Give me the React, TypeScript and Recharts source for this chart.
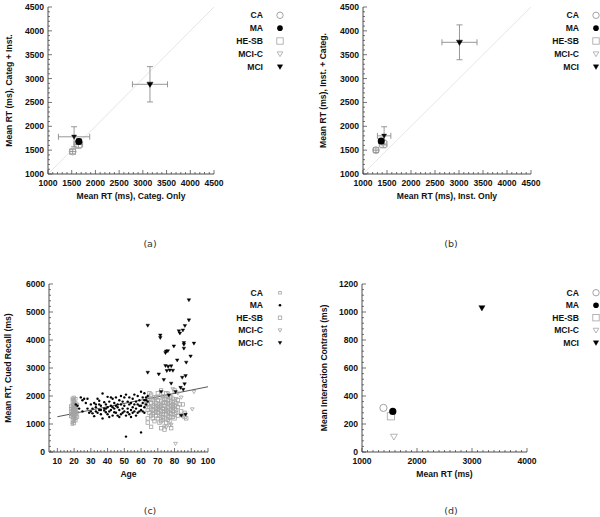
import React from 'react';
import { ScatterChart, Scatter, XAxis, YAxis, ErrorBar, ReferenceLine } from 'recharts';

type Pt = { x: number; y: number; ex?: number; ey?: number };
type Kind = 'oc' | 'fc' | 'os' | 'ot' | 'ft';

const FONT = '"Liberation Sans", Arial, Helvetica, sans-serif';
const GRAY = '#a3a3a3';
const EBAR = '#8c8c8c';
const BORDER = '#3a3a3a';

// ---------- Panel (a) ----------
const A_CA: Pt[] = [{ x: 1520, y: 1470, ex: 60, ey: 50 }];
const A_MA: Pt[] = [{ x: 1650, y: 1680, ex: 50, ey: 60 }];
const A_HESB: Pt[] = [{ x: 1640, y: 1620, ex: 90, ey: 80 }];
const A_MCIC: Pt[] = [{ x: 1550, y: 1780, ex: 330, ey: 210 }];
const A_MCI: Pt[] = [{ x: 3150, y: 2880, ex: 370, ey: 370 }];
const A_DIAG = [{ x: 1000, y: 1000 }, { x: 4500, y: 4500 }];

// ---------- Panel (b) ----------
const B_CA: Pt[] = [{ x: 1270, y: 1500, ex: 50, ey: 50 }];
const B_MA: Pt[] = [{ x: 1380, y: 1690, ex: 50, ey: 50 }];
const B_HESB: Pt[] = [{ x: 1420, y: 1630, ex: 80, ey: 80 }];
const B_MCIC: Pt[] = [{ x: 1440, y: 1800, ex: 140, ey: 190 }];
const B_MCI: Pt[] = [{ x: 3010, y: 3760, ex: 365, ey: 365 }];
const B_DIAG = [{ x: 1000, y: 1000 }, { x: 4500, y: 4500 }];

// ---------- Panel (d) ----------
const D_CA: Pt[] = [{ x: 1390, y: 315 }];
const D_MA: Pt[] = [{ x: 1560, y: 290 }];
const D_HESB: Pt[] = [{ x: 1525, y: 255 }];
const D_MCIC: Pt[] = [{ x: 1580, y: 110 }];
const D_MCI: Pt[] = [{ x: 3180, y: 1030 }];

// ---------- Panel (c) : [age, RT] ----------
const C_CA: [number, number][] = [
  [19, 1000], [19, 1050], [20, 1100], [19, 1150], [20, 1180], [21, 1200], [19, 1230], [20, 1250],
  [18, 1270], [21, 1290], [20, 1300], [19, 1320], [20, 1340], [21, 1350], [19, 1370], [20, 1380],
  [20, 1400], [21, 1410], [19, 1420], [20, 1440], [18, 1450], [21, 1460], [20, 1470], [19, 1490],
  [20, 1500], [21, 1510], [19, 1530], [20, 1550], [20, 1560], [21, 1580], [19, 1600], [20, 1620],
  [18, 1640], [21, 1650], [20, 1680], [19, 1700], [20, 1720], [21, 1750], [19, 1780], [20, 1800],
  [20, 1830], [19, 1870], [21, 1900], [20, 1950], [19, 1920], [22, 1700], [18, 1350], [22, 1400],
  [20, 1020], [21, 1120], [18, 1550], [22, 1250], [20, 1330], [19, 1460], [21, 1540], [20, 1610],
];
const C_MA: [number, number][] = [
  [21, 1700], [22, 1650], [23, 1550], [24, 1950], [25, 1450], [26, 1900], [27, 1750], [28, 1550],
  [29, 1400], [30, 1700], [31, 1380], [31, 1550], [32, 1280], [33, 1600], [33, 1450], [34, 1900],
  [34, 1400], [35, 1500], [35, 1830], [36, 1350], [36, 1650], [37, 2090], [37, 1200], [38, 1550],
  [38, 1480], [39, 1700], [39, 1420], [40, 1970], [40, 1600], [40, 1350], [41, 1450], [41, 1800],
  [42, 1500], [42, 1650], [43, 1300], [43, 1900], [44, 1550], [44, 1750], [45, 1400], [45, 1950],
  [46, 1600], [46, 1300], [47, 1850], [47, 1500], [48, 1700], [48, 1350], [48, 2000], [49, 1550],
  [49, 1800], [50, 1950], [50, 1450], [50, 1650], [51, 1300], [51, 2050], [51, 550], [52, 1550],
  [52, 1800], [53, 1350], [53, 1700], [54, 1500], [54, 1250], [55, 1600], [55, 1900], [56, 1700],
  [56, 1450], [57, 1800], [57, 1550], [58, 2000], [58, 1400], [59, 1650], [59, 1850], [60, 2150],
  [60, 700], [60, 1500], [61, 1750], [61, 1950], [62, 1600], [62, 2100], [62, 1400], [63, 1850],
  [63, 1700], [63, 1950], [64, 1800], [64, 2000], [35, 1700], [42, 1950], [44, 1420], [46, 1700],
  [53, 1950], [56, 2050], [58, 1700], [61, 1450], [28, 1900], [30, 1450], [32, 1750], [38, 1780],
  [45, 1650], [47, 1250], [52, 1420], [55, 1400], [57, 1300], [59, 1450], [49, 1400], [36, 1500],
  [41, 1250], [33, 1700], [25, 1850], [39, 1550], [43, 1600], [54, 1750], [60, 1650], [62, 1850],
];
const C_HESB: [number, number][] = [
  [64, 1700], [64, 1200], [64, 1050], [64, 1500], [65, 1900], [65, 1400], [65, 1600], [66, 900],
  [66, 1300], [66, 1750], [66, 2050], [67, 1500], [67, 1200], [67, 1650], [67, 1850], [68, 1400],
  [68, 1600], [68, 1100], [68, 1950], [69, 1300], [69, 1550], [69, 1750], [69, 1450], [70, 1200],
  [70, 1650], [70, 1850], [70, 1400], [70, 2100], [71, 1500], [71, 1300], [71, 1700], [71, 1950],
  [71, 1600], [72, 1100], [72, 850], [72, 1450], [72, 1800], [72, 1650], [72, 2200], [73, 1350],
  [73, 1550], [73, 1750], [73, 1250], [73, 2000], [74, 1450], [74, 1650], [74, 1900], [74, 800],
  [74, 1200], [74, 1550], [75, 1350], [75, 1750], [75, 1500], [75, 2100], [75, 1050], [76, 1600],
  [76, 1300], [76, 1850], [76, 1450], [76, 1700], [77, 1550], [77, 1250], [77, 1950], [77, 1400],
  [77, 1750], [78, 850], [78, 1650], [78, 1350], [78, 1800], [78, 1500], [79, 1450], [79, 1700],
  [79, 1900], [79, 1600], [80, 1550], [80, 1350], [80, 1800], [80, 2200], [80, 1650], [81, 1500],
  [81, 1750], [81, 1400], [82, 1600], [82, 1850], [83, 1700], [84, 1450], [85, 1700], [86, 1400],
  [86, 1250], [87, 1200], [65, 2100], [68, 1800], [70, 1550], [72, 1350], [74, 1750], [76, 2000],
  [78, 1950], [79, 1250], [73, 1150], [75, 1900], [71, 1050], [69, 1950], [67, 1350], [77, 1100],
  [76, 1150], [80, 1200], [82, 1300], [66, 1550], [63, 1700], [64, 1900],
];
const C_MCIC: [number, number][] = [
  [80.6, 300], [91.6, 2150], [90.6, 1530], [77, 950], [74, 920], [82, 2100], [79, 2250],
  [84, 1950], [76, 2100], [73, 1950], [78, 980], [85, 1300], [81, 1900], [75, 880],
];
const C_MCI: [number, number][] = [
  [64, 4520], [64, 2840], [71.5, 4170], [71.5, 4080], [82.6, 4320], [83.2, 4240], [85, 4350],
  [86.2, 4510], [88.6, 4710], [88.6, 5430], [85.6, 3900], [85.6, 3840], [91.6, 3880], [79.6, 3780],
  [75, 3600], [76, 3610], [74.6, 3540], [85.6, 3700], [81.6, 3280], [87, 3200], [89.6, 3420],
  [70.6, 2780], [74.6, 3080], [76.2, 3050], [78, 3070], [75.4, 2900], [77.2, 2920], [79, 2910],
  [73.6, 2580], [84.6, 2660], [86.6, 2720], [83.6, 2300], [85.2, 2230], [86, 2430], [80.6, 2150],
  [76.6, 2030], [86.6, 1340], [84, 1300], [72, 2150], [78, 2450],
];
const C_FIT = [{ x: 10, y: 1260 }, { x: 100, y: 2330 }];

// ---------- Ticks ----------
const AB_MAJOR = [1000, 1500, 2000, 2500, 3000, 3500, 4000, 4500];
const C_XMAJOR = [10, 20, 30, 40, 50, 60, 70, 80, 90, 100];
const C_YMAJOR = [0, 1000, 2000, 3000, 4000, 5000, 6000];
const D_XMAJOR = [1000, 2000, 3000, 4000];
const D_YMAJOR = [0, 200, 400, 600, 800, 1000, 1200];

const LEG_ABD = ['CA', 'MA', 'HE-SB', 'MCI-C', 'MCI'];
const LEG_C = ['CA', 'MA', 'HE-SB', 'MCI-C', 'MCI-C'];

const range = (a: number, b: number, s: number) => {
  const out: number[] = [];
  for (let v = a; v <= b + 1e-9; v += s) out.push(Math.round(v * 1000) / 1000);
  return out;
};

const toPts = (arr: [number, number][]) => arr.map(([x, y]) => ({ x, y }));

const TXT: React.CSSProperties = { fontFamily: FONT, fontWeight: 700, fontSize: 8.6, fill: '#111' };

function Marker({ kind, cx, cy, s, color }: { kind: Kind; cx: number; cy: number; s: number; color?: string }) {
  const c = color || (kind === 'fc' || kind === 'ft' ? '#000' : GRAY);
  if (kind === 'oc') return <circle cx={cx} cy={cy} r={s} fill="none" stroke={c} strokeWidth={1} />;
  if (kind === 'fc') return <circle cx={cx} cy={cy} r={s} fill={c} stroke="none" />;
  if (kind === 'os') return <rect x={cx - s} y={cy - s} width={2 * s} height={2 * s} fill="none" stroke={c} strokeWidth={0.8} />;
  const d = `M${cx - s},${cy - 0.7 * s} L${cx + s},${cy - 0.7 * s} L${cx},${cy + s} Z`;
  if (kind === 'ot') return <path d={d} fill="none" stroke={c} strokeWidth={0.8} />;
  return <path d={d} fill={c} stroke={c} strokeWidth={0.4} />;
}

const shape = (kind: Kind, s: number, color?: string) => (p: any) =>
  p.cx == null ? <g /> : <Marker kind={kind} cx={p.cx} cy={p.cy} s={s} color={color} />;

const makeTick = (side: 'bottom' | 'left' | 'top' | 'right', majors: number[], label: boolean) => (props: any) => {
  const { x, y, payload } = props;
  const v = payload.value;
  const major = majors.indexOf(v) >= 0;
  const len = major ? 4 : 2;
  const st = { stroke: BORDER, strokeWidth: 0.7 };
  let ln: React.ReactNode = null;
  if (side === 'bottom') ln = <line x1={x} y1={y} x2={x} y2={y - len} {...st} />;
  if (side === 'top') ln = <line x1={x} y1={y} x2={x} y2={y + len} {...st} />;
  if (side === 'left') ln = <line x1={x} y1={y} x2={x + len} y2={y} {...st} />;
  if (side === 'right') ln = <line x1={x} y1={y} x2={x - len} y2={y} {...st} />;
  let t: React.ReactNode = null;
  if (label && major) {
    if (side === 'bottom')
      t = <text x={x} y={y + 9} textAnchor="middle" dominantBaseline="central" style={TXT}>{v}</text>;
    if (side === 'left')
      t = <text x={x - 4} y={y} textAnchor="end" dominantBaseline="central" style={TXT}>{v}</text>;
  }
  return <g>{ln}{t}</g>;
};

const xTitle = (text: string) => (props: any) => {
  const vb = props.viewBox || {};
  return (
    <text x={vb.x + vb.width / 2} y={vb.y + 21.5} textAnchor="middle" dominantBaseline="central" style={TXT}>
      {text}
    </text>
  );
};

const yTitle = (text: string, tx: number) => (props: any) => {
  const vb = props.viewBox || {};
  const cx = (vb.x || 0) + tx;
  const cy = vb.y + vb.height / 2;
  return (
    <text x={cx} y={cy} transform={`rotate(-90, ${cx}, ${cy})`} textAnchor="middle" dominantBaseline="central" style={TXT}>
      {text}
    </text>
  );
};

type PanelProps = {
  left: number; top: number; width: number; height: number;
  plotLeft: number; plotRight: number; plotTop: number; plotBottom: number;
  xDomain: [number, number]; yDomain: [number, number];
  xMajors: number[]; xMinors: number[]; yMajors: number[]; yMinors: number[];
  xLabel: string; yLabel: string; yLabelX: number;
  children: React.ReactNode;
};

function Panel(p: PanelProps) {
  return (
    <div style={{ position: 'absolute', left: p.left, top: p.top, width: p.width, height: p.height }}>
      <ScatterChart
        width={p.width}
        height={p.height}
        margin={{ top: p.plotTop, right: p.width - p.plotRight, left: 0, bottom: p.height - p.plotBottom - 30 }}
      >
        <XAxis
          type="number" dataKey="x" domain={p.xDomain} allowDataOverflow ticks={p.xMinors} interval={0}
          tickSize={0} tickMargin={0} tickLine={false} height={30}
          axisLine={{ stroke: BORDER, strokeWidth: 0.9 }}
          tick={makeTick('bottom', p.xMajors, true)}
          label={{ content: xTitle(p.xLabel) } as any}
        />
        <XAxis
          xAxisId="top" orientation="top" type="number" dataKey="x" domain={p.xDomain} allowDataOverflow
          ticks={p.xMinors} interval={0} tickSize={0} tickMargin={0} tickLine={false} height={0}
          axisLine={{ stroke: BORDER, strokeWidth: 0.9 }} tick={makeTick('top', p.xMajors, false)}
        />
        <YAxis
          type="number" dataKey="y" domain={p.yDomain} allowDataOverflow ticks={p.yMinors} interval={0}
          tickSize={0} tickMargin={0} tickLine={false} width={p.plotLeft}
          axisLine={{ stroke: BORDER, strokeWidth: 0.9 }}
          tick={makeTick('left', p.yMajors, true)}
          label={{ content: yTitle(p.yLabel, p.yLabelX) } as any}
        />
        <YAxis
          yAxisId="right" orientation="right" type="number" dataKey="y" domain={p.yDomain} allowDataOverflow
          ticks={p.yMinors} interval={0} tickSize={0} tickMargin={0} tickLine={false} width={0}
          axisLine={{ stroke: BORDER, strokeWidth: 0.9 }} tick={makeTick('right', p.yMajors, false)}
        />
        {p.children}
      </ScatterChart>
    </div>
  );
}

const eb = (dir: 'x' | 'y') => (
  <ErrorBar dataKey={dir === 'x' ? 'ex' : 'ey'} direction={dir} width={3} stroke={EBAR} strokeWidth={0.9} />
);

function Legend({ x, y, labels, kinds, sizes, step }: { x: number; y: number; labels: string[]; kinds: Kind[]; sizes: number[]; step: number }) {
  return (
    <g>
      {labels.map((l, i) => (
        <g key={i}>
          <text x={x} y={y + i * step} textAnchor="end" dominantBaseline="central" style={TXT}>{l}</text>
          <Marker kind={kinds[i]} cx={x + 17} cy={y + i * step} s={sizes[i]} />
        </g>
      ))}
    </g>
  );
}

const CAP: React.CSSProperties = { fontFamily: '"DejaVu Sans", sans-serif', fontSize: 9.5, fill: '#333' };

export default function App() {
  const abMinor = range(1000, 4500, 100);
  const cxMinor = range(6, 100, 2);
  const cyMinor = range(0, 6000, 200);
  const dxMinor = range(1000, 4000, 100);
  const dyMinor = range(0, 1200, 40);
  const abdKinds: Kind[] = ['oc', 'fc', 'os', 'ot', 'ft'];
  const cKinds: Kind[] = ['os', 'fc', 'os', 'ot', 'ft'];
  const legSizes = [3.2, 2.8, 3.2, 2.8, 2.7];

  return (
    <div style={{ position: 'absolute', left: 0, top: 0, width: 600, height: 517, background: '#fff', overflow: 'hidden' }}>
      <Panel
        left={0} top={0} width={300} height={260}
        plotLeft={48} plotRight={214} plotTop={7} plotBottom={174}
        xDomain={[1000, 4500]} yDomain={[1000, 4500]}
        xMajors={AB_MAJOR} xMinors={abMinor} yMajors={AB_MAJOR} yMinors={abMinor}
        xLabel="Mean RT (ms), Categ. Only" yLabel="Mean RT (ms), Categ + Inst." yLabelX={8.5}
      >
        <ReferenceLine segment={A_DIAG} stroke="#e6e6e6" strokeWidth={1} />
        <Scatter data={A_HESB} isAnimationActive={false} shape={shape('os', 3.3)}>{eb('x')}{eb('y')}</Scatter>
        <Scatter data={A_CA} isAnimationActive={false} shape={shape('oc', 3.4)}>{eb('x')}{eb('y')}</Scatter>
        <Scatter data={A_MA} isAnimationActive={false} shape={shape('fc', 3.5)}>{eb('x')}{eb('y')}</Scatter>
        <Scatter data={A_MCIC} isAnimationActive={false} shape={shape('ft', 2.5, '#111')}>{eb('x')}{eb('y')}</Scatter>
        <Scatter data={A_MCI} isAnimationActive={false} shape={shape('ft', 3.1)}>{eb('x')}{eb('y')}</Scatter>
      </Panel>

      <Panel
        left={300} top={0} width={300} height={260}
        plotLeft={63} plotRight={231} plotTop={7} plotBottom={174}
        xDomain={[1000, 4500]} yDomain={[1000, 4500]}
        xMajors={AB_MAJOR} xMinors={abMinor} yMajors={AB_MAJOR} yMinors={abMinor}
        xLabel="Mean RT (ms), Inst. Only" yLabel="Mean RT (ms), Inst. + Categ." yLabelX={23}
      >
        <ReferenceLine segment={B_DIAG} stroke="#e6e6e6" strokeWidth={1} />
        <Scatter data={B_HESB} isAnimationActive={false} shape={shape('os', 3.3)}>{eb('x')}{eb('y')}</Scatter>
        <Scatter data={B_CA} isAnimationActive={false} shape={shape('oc', 3.4)}>{eb('x')}{eb('y')}</Scatter>
        <Scatter data={B_MA} isAnimationActive={false} shape={shape('fc', 3.5)}>{eb('x')}{eb('y')}</Scatter>
        <Scatter data={B_MCIC} isAnimationActive={false} shape={shape('ft', 2.5, '#111')}>{eb('x')}{eb('y')}</Scatter>
        <Scatter data={B_MCI} isAnimationActive={false} shape={shape('ft', 3.1)}>{eb('x')}{eb('y')}</Scatter>
      </Panel>

      <Panel
        left={0} top={260} width={300} height={257}
        plotLeft={49} plotRight={208} plotTop={24} plotBottom={192}
        xDomain={[5, 100]} yDomain={[0, 6000]}
        xMajors={C_XMAJOR} xMinors={cxMinor} yMajors={C_YMAJOR} yMinors={cyMinor}
        xLabel="Age" yLabel="Mean RT, Cued Recall (ms)" yLabelX={7.5}
      >
        <ReferenceLine segment={C_FIT} stroke="#444" strokeWidth={0.9} />
        <Scatter data={toPts(C_CA)} isAnimationActive={false} shape={shape('os', 1.3)} />
        <Scatter data={toPts(C_HESB)} isAnimationActive={false} shape={shape('os', 1.7)} />
        <Scatter data={toPts(C_MCIC)} isAnimationActive={false} shape={shape('ot', 1.9)} />
        <Scatter data={toPts(C_MA)} isAnimationActive={false} shape={shape('fc', 1.2)} />
        <Scatter data={toPts(C_MCI)} isAnimationActive={false} shape={shape('ft', 1.8)} />
      </Panel>

      <Panel
        left={300} top={260} width={300} height={257}
        plotLeft={62} plotRight={227} plotTop={24} plotBottom={192}
        xDomain={[1000, 4000]} yDomain={[0, 1200]}
        xMajors={D_XMAJOR} xMinors={dxMinor} yMajors={D_YMAJOR} yMinors={dyMinor}
        xLabel="Mean RT (ms)" yLabel="Mean Interaction Contrast (ms)" yLabelX={24}
      >
        <Scatter data={D_CA} isAnimationActive={false} shape={shape('oc', 3.6)} />
        <Scatter data={D_HESB} isAnimationActive={false} shape={shape('os', 3.6)} />
        <Scatter data={D_MA} isAnimationActive={false} shape={shape('fc', 3.6)} />
        <Scatter data={D_MCIC} isAnimationActive={false} shape={shape('ot', 3.4)} />
        <Scatter data={D_MCI} isAnimationActive={false} shape={shape('ft', 3.1)} />
      </Panel>

      <svg width={600} height={517} style={{ position: 'absolute', left: 0, top: 0, pointerEvents: 'none' }}>
        <Legend x={263} y={15.3} labels={LEG_ABD} kinds={abdKinds} sizes={legSizes} step={12.85} />
        <Legend x={579} y={15.3} labels={LEG_ABD} kinds={abdKinds} sizes={legSizes} step={12.85} />
        <Legend x={263} y={292.7} labels={LEG_C} kinds={cKinds} sizes={[1.3, 1.3, 1.7, 1.9, 1.8]} step={12.5} />
        <Legend x={579} y={292.7} labels={LEG_ABD} kinds={abdKinds} sizes={legSizes} step={12.5} />
        <text x={150} y={243} textAnchor="middle" dominantBaseline="central" style={CAP}>(a)</text>
        <text x={451} y={243} textAnchor="middle" dominantBaseline="central" style={CAP}>(b)</text>
        <text x={150} y={510} textAnchor="middle" dominantBaseline="central" style={CAP}>(c)</text>
        <text x={451} y={510} textAnchor="middle" dominantBaseline="central" style={CAP}>(d)</text>
      </svg>
    </div>
  );
}
